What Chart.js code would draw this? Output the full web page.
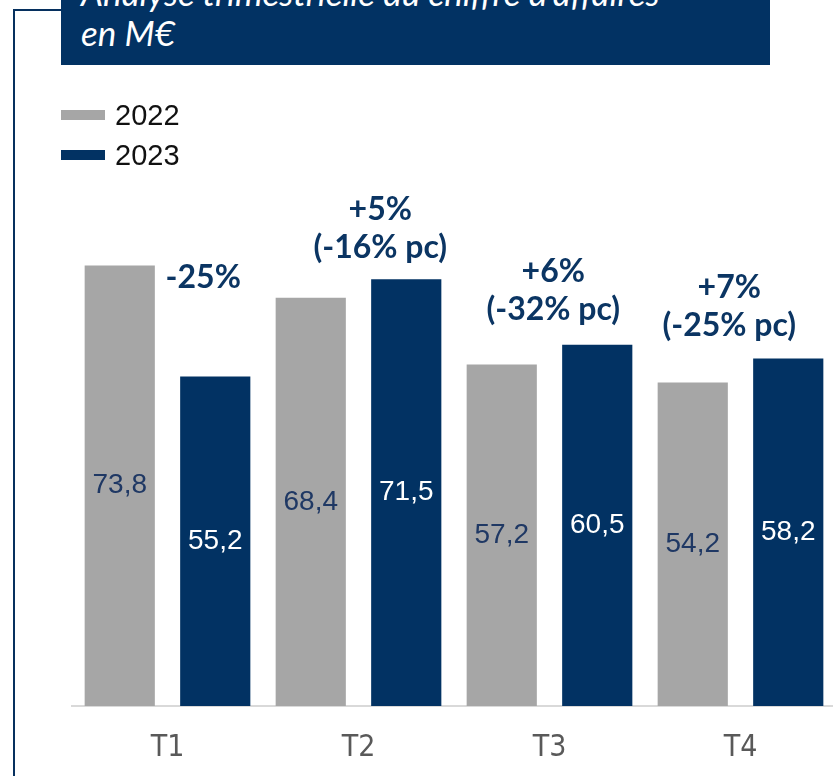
<!DOCTYPE html>
<html>
<head>
<meta charset="utf-8">
<script src="https://cdn.jsdelivr.net/npm/chart.js@4.4.1/dist/chart.umd.min.js"></script>
<style>
  html, body { margin: 0; padding: 0; width: 833px; height: 776px; overflow: hidden; background: #fff; }
  #frame { position: absolute; left: 13px; top: 9px; width: 120px; height: 800px;
           border-left: 2px solid #06305e; border-top: 2px solid #06305e; box-sizing: border-box; }
  #title { position: absolute; left: 61px; top: -28px; width: 709px; height: 93px; background: #023263;
           color: #fff; font-family: Lato, sans-serif; font-style: italic; font-size: 35px; line-height: 40px;
           padding: 0 0 0 20px; box-sizing: border-box; white-space: nowrap; overflow: hidden; z-index: 2; }
  #legend { position: absolute; left: 61px; top: 95px; font-family: 'Liberation Sans', Arial, sans-serif;
            font-size: 29px; color: #111; z-index: 2; }
  .li { height: 40px; display: flex; align-items: center; }
  .sw { width: 44px; height: 10px; margin-right: 10px; }
  #wrap { position: absolute; left: 0; top: 0; width: 840px; height: 805px; }
</style>
</head>
<body>
<div id="frame"></div>
<div id="title"></div>
<div id="legend"></div>
<div id="wrap"><canvas id="c" width="840" height="805"></canvas></div>
<script>
const titleLines = ["Analyse trimestrielle du chiffre d'affaires", "en M€"];
const categories = ["T1", "T2", "T3", "T4"];
const seriesNames = ["2022", "2023"];
const values2022 = [73.8, 68.4, 57.2, 54.2];
const values2023 = [55.2, 71.5, 60.5, 58.2];
const growthLabels = [["-25%"], ["+5%", "(-16% pc)"], ["+6%", "(-32% pc)"], ["+7%", "(-25% pc)"]];

const GRAY = '#a6a6a6', NAVY = '#023263';

document.getElementById('title').innerHTML = titleLines.map(t => '<div>' + t + '</div>').join('');
const lg = document.getElementById('legend');
[[seriesNames[0], GRAY], [seriesNames[1], NAVY]].forEach(([n, c]) => {
  const d = document.createElement('div'); d.className = 'li';
  d.innerHTML = '<span class="sw" style="background:' + c + '"></span><span>' + n + '</span>';
  lg.appendChild(d);
});

const fmt = v => v.toFixed(1).replace('.', ',');

// label placement relative to the 2023 bar of each quarter (pixel offsets)
const growthOffsets = [{dx: -12, dy: -99}, {dx: -26, dy: -31}, {dx: -44, dy: -35}, {dx: -59, dy: -33}];

const labelsPlugin = {
  id: 'labelsPlugin',
  afterDatasetsDraw(chart) {
    const ctx = chart.ctx;
    ctx.save();
    ctx.textAlign = 'center';
    ctx.textBaseline = 'middle';
    ctx.font = '28px "Liberation Sans", Arial, sans-serif';
    chart.data.datasets.forEach((ds, di) => {
      const meta = chart.getDatasetMeta(di);
      meta.data.forEach((bar, i) => {
        ctx.fillStyle = di === 0 ? '#1f3864' : '#ffffff';
        ctx.fillText(fmt(ds.data[i]), bar.x, (bar.y + bar.base) / 2);
      });
    });
    ctx.font = 'bold 32px Lato, sans-serif';
    ctx.fillStyle = '#0b3563';
    const meta = chart.getDatasetMeta(1);
    growthLabels.forEach((lines, i) => {
      const bar = meta.data[i];
      const o = growthOffsets[i];
      const x = bar.x + o.dx;
      const lh = 38;
      lines.forEach((t, k) => {
        const y = bar.y + o.dy - (lines.length - 1 - k) * lh;
        ctx.fillText(t, x, y);
      });
    });
    ctx.restore();
  }
};

new Chart(document.getElementById('c'), {
  type: 'bar',
  data: {
    labels: categories,
    datasets: [
      { label: seriesNames[0], data: values2022, backgroundColor: GRAY },
      { label: seriesNames[1], data: values2023, backgroundColor: NAVY }
    ]
  },
  options: {
    responsive: false,
    animation: false,
    events: [],
    layout: { padding: { left: 72, right: 4, top: 109, bottom: 15 } },
    plugins: { legend: { display: false }, tooltip: { enabled: false } },
    datasets: { bar: { categoryPercentage: 1.0, barPercentage: 0.735 } },
    scales: {
      y: { display: false, min: 0, max: 100 },
      x: {
        grid: { display: true, drawOnChartArea: false, drawTicks: false },
        border: { display: true, color: '#d9d9d9', width: 2 },
        ticks: { color: '#595959', padding: 24,
                 font: { family: '"Liberation Sans Narrow", "DejaVu Sans Condensed", "Liberation Sans", sans-serif', size: 30 } }
      }
    }
  },
  plugins: [labelsPlugin]
});
</script>
</body>
</html>
